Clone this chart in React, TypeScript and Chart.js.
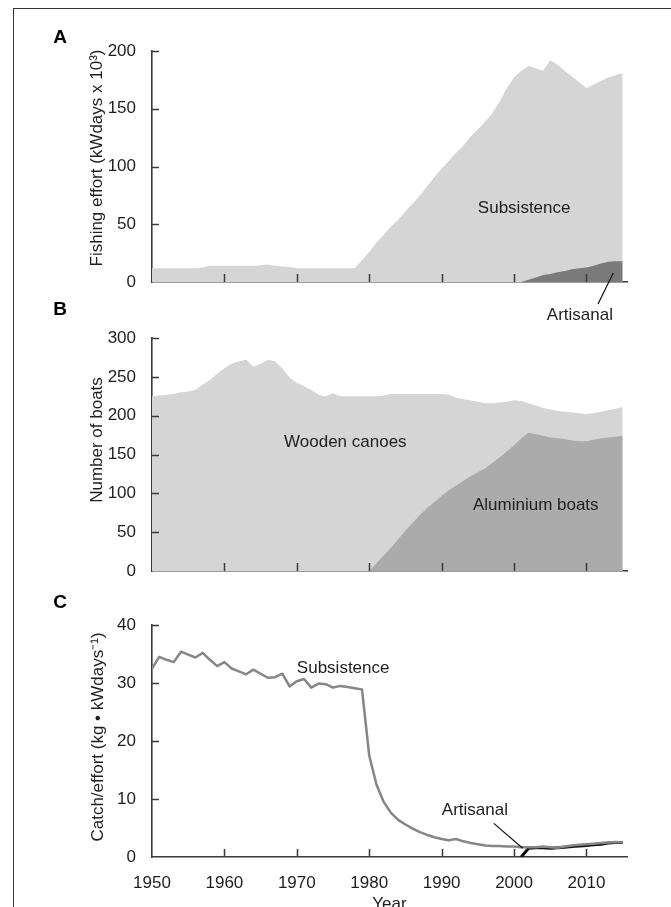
import React, { useEffect, useRef } from 'react';
import { Chart, registerables } from 'chart.js';

Chart.register(...registerables);

const FONT = '"Liberation Sans", Arial, Helvetica, sans-serif';
const TEXT = '#1e1e1e';
const AXIS = '#3a3a3a';
const LIGHT = '#d5d5d5';
const DARK_A = '#7a7a7a';
const MID_B = '#ababab';
const LINE_SUB = '#868686';
const LINE_ART = '#111111';

// ---------- DATA ----------
const YEAR_START = 1950; // categories: one value per year, 1950..2015
const X_MIN = 1950;
const X_MAX = 2015.6;
const X_TICK_STEP = 10;

// Panel A: fishing effort (kWdays x 10^3)
const subsistenceEffort = [
  12, 12, 12, 12, 12, 12, 12, 12.5, 14, 14,
  14, 14, 14, 14, 14, 14.5, 15, 14, 13.5, 13,
  12, 12, 12, 12, 12, 12, 12, 12, 12, 19,
  26, 34, 41, 48, 54, 61, 68, 75, 83, 91,
  98, 105, 112, 118, 126, 132, 139, 146, 156, 168,
  177, 183, 187, 185, 183, 192, 188, 183, 178, 173,
  168, 171, 174, 177, 179, 181,
];
const ARTISANAL_START = 2001;
const artisanalEffort = [0, 2, 4, 6, 7, 8.5, 9.5, 11, 12, 12.5, 14, 16, 17.5, 18, 18];

// Panel B: number of boats
const woodenCanoes = [
  225, 226, 227, 228, 230, 231, 233, 240, 246, 254,
  261, 267, 270, 272, 263, 267, 272, 270, 261, 249,
  242, 238, 233, 227, 225, 229, 225, 225, 225, 225,
  225, 225, 226, 228, 228, 228, 228, 228, 228, 228,
  228, 227, 223, 221, 220, 218, 216, 216, 217, 218,
  220, 219, 216, 213, 210, 208, 206, 205, 204, 203,
  202, 203, 205, 207, 209, 211,
];
const ALUMINIUM_START = 1980;
const aluminiumBoats = [
  0, 10, 20, 30, 41, 52, 62, 72, 81, 89,
  97, 104, 110, 116, 122, 127, 132, 139, 146, 154,
  162, 171, 178, 176, 174, 172, 171, 170, 168, 167,
  167, 169, 171, 172, 173, 174,
];

// Panel C: catch / effort (kg per kWday)
const subsistenceCpue = [
  32.5, 34.5, 34.0, 33.6, 35.4, 34.9, 34.4, 35.2, 34.0, 32.9,
  33.6, 32.5, 32.0, 31.5, 32.3, 31.6, 30.9, 31.0, 31.6, 29.4,
  30.3, 30.7, 29.2, 29.9, 29.8, 29.2, 29.5, 29.3, 29.1, 28.9,
  17.5, 12.5, 9.5, 7.6, 6.4, 5.6, 4.9, 4.3, 3.8, 3.4,
  3.1, 2.9, 3.1, 2.7, 2.4, 2.2, 2.0, 1.9, 1.9, 1.8,
  1.8, 1.7, 1.7, 1.7, 1.8, 1.7, 1.6, 1.8, 2.0, 2.1,
  2.2, 2.3, 2.4, 2.5, 2.6, 2.5,
];
const artisanalCpue = [0, 1.5, 1.6, 1.6, 1.5, 1.6, 1.7, 1.8, 1.9, 2.0, 2.1, 2.2, 2.4, 2.5, 2.5];

// Y tick settings
const yMaxA = 200, yStepA = 50;
const yMaxB = 300, yStepB = 50;
const yMaxC = 40, yStepC = 10;

// Text
const yTitleA = 'Fishing effort (kWdays x 10³)';
const yTitleB = 'Number of boats';
const yTitleC = 'Catch/effort (kg • kWdays⁻¹)';
const xTitleC = 'Year';

// ---------- helpers ----------
function toXY(start: number, values: number[]) {
  return values.map((v, i) => ({ x: start + i, y: v }));
}

const decorPlugin = {
  id: 'decor',
  afterDraw(chart: any, _args: any, opts: any) {
    const ctx = chart.ctx as CanvasRenderingContext2D;
    const { left, bottom } = chart.chartArea;
    const xs = chart.scales.x;
    const ys = chart.scales.y;
    ctx.save();
    // inward tick marks
    ctx.strokeStyle = AXIS;
    ctx.lineWidth = 1.5;
    ctx.beginPath();
    xs.ticks.forEach((t: any) => {
      if (t.value <= xs.min) return;
      const px = Math.round(xs.getPixelForValue(t.value)) + 0.5;
      ctx.moveTo(px, bottom);
      ctx.lineTo(px, bottom - 8);
    });
    ys.ticks.forEach((t: any) => {
      if (t.value <= ys.min) return;
      const py = Math.round(ys.getPixelForValue(t.value)) + 0.5;
      ctx.moveTo(left, py);
      ctx.lineTo(left + 7, py);
    });
    ctx.stroke();

    // leader lines
    ctx.strokeStyle = '#111';
    ctx.lineWidth = 1.2;
    (opts.leaders || []).forEach((l: number[]) => {
      ctx.beginPath();
      ctx.moveTo(xs.getPixelForValue(l[0]), ys.getPixelForValue(l[1]));
      ctx.lineTo(xs.getPixelForValue(l[2]), ys.getPixelForValue(l[3]));
      ctx.stroke();
    });

    // annotation labels (data coordinates)
    ctx.fillStyle = TEXT;
    ctx.font = `17px ${FONT}`;
    ctx.textAlign = 'center';
    ctx.textBaseline = 'middle';
    (opts.labels || []).forEach((l: any) => {
      ctx.fillText(l.text, xs.getPixelForValue(l.x), ys.getPixelForValue(l.y));
    });

    // y-axis title
    if (opts.yTitle) {
      ctx.save();
      ctx.translate(opts.yTitleX, opts.yTitleY);
      ctx.rotate(-Math.PI / 2);
      ctx.fillText(opts.yTitle, 0, 0);
      ctx.restore();
    }

    // panel letter
    if (opts.letter) {
      ctx.font = `bold 19px ${FONT}`;
      ctx.fillStyle = '#000';
      ctx.fillText(opts.letter, opts.letterX, opts.letterY);
    }
    ctx.restore();
  },
};

function makeOptions(p: any) {
  return {
    responsive: false,
    animation: false,
    events: [],
    layout: { padding: { top: p.padTop, right: 44, left: 0, bottom: 0 } },
    plugins: {
      legend: { display: false },
      tooltip: { enabled: false },
      decor: p.decor,
    },
    elements: { point: { radius: 0 }, line: { tension: 0 } },
    scales: {
      x: {
        type: 'linear',
        min: X_MIN,
        max: X_MAX,
        z: 1,
        grid: { display: false },
        border: { display: true, color: AXIS, width: 1.6 },
        ticks: {
          display: !!p.xLabels,
          stepSize: X_TICK_STEP,
          includeBounds: false,
          padding: 8,
          color: TEXT,
          maxRotation: 0,
          autoSkip: false,
          font: { size: 17, family: FONT },
          callback: (v: any) => String(v),
        },
        title: p.xTitle
          ? { display: true, text: p.xTitle, color: TEXT, font: { size: 17, family: FONT }, padding: { top: 0, bottom: 5 } }
          : { display: false },
        afterFit: (s: any) => {
          s.height = p.xHeight;
        },
      },
      y: {
        type: 'linear',
        min: 0,
        max: p.yMax,
        z: 1,
        grid: { display: false },
        border: { display: true, color: AXIS, width: 1.6 },
        ticks: {
          stepSize: p.yStep,
          padding: 8,
          color: TEXT,
          font: { size: 17, family: FONT },
          callback: (v: any) => String(v),
        },
        afterFit: (s: any) => {
          s.width = 152;
        },
      },
    },
  };
}

function areaSet(data: any[], color: string, order: number) {
  return {
    data,
    backgroundColor: color,
    borderColor: 'rgba(0,0,0,0)',
    borderWidth: 0,
    fill: 'origin',
    pointRadius: 0,
    order,
  };
}

function configA() {
  return {
    type: 'line',
    data: {
      datasets: [
        areaSet(toXY(YEAR_START, subsistenceEffort), LIGHT, 1),
        areaSet(toXY(ARTISANAL_START, artisanalEffort), DARK_A, 0),
      ],
    },
    options: makeOptions({
      padTop: 51,
      xHeight: 53,
      yMax: yMaxA,
      yStep: yStepA,
      decor: {
        letter: 'A',
        letterX: 60,
        letterY: 38,
        yTitle: yTitleA,
        yTitleX: 97,
        yTitleY: 158,
        labels: [
          { text: 'Subsistence', x: 2001.4, y: 64 },
          { text: 'Artisanal', x: 2009.1, y: -28.6 },
        ],
        leaders: [[2013.7, 7.8, 2011.6, -19]],
      },
    }),
    plugins: [decorPlugin],
  };
}

function configB() {
  return {
    type: 'line',
    data: {
      datasets: [
        areaSet(toXY(YEAR_START, woodenCanoes), LIGHT, 1),
        areaSet(toXY(ALUMINIUM_START, aluminiumBoats), MID_B, 0),
      ],
    },
    options: makeOptions({
      padTop: 48,
      xHeight: 19,
      yMax: yMaxB,
      yStep: yStepB,
      decor: {
        letter: 'B',
        letterX: 60,
        letterY: 20,
        yTitle: yTitleB,
        yTitleX: 97,
        yTitleY: 150,
        labels: [
          { text: 'Wooden canoes', x: 1976.7, y: 166 },
          { text: 'Aluminium boats', x: 2003.0, y: 85 },
        ],
        leaders: [],
      },
    }),
    plugins: [decorPlugin],
  };
}

function configC() {
  return {
    type: 'line',
    data: {
      datasets: [
        {
          data: toXY(YEAR_START, subsistenceCpue),
          borderColor: LINE_SUB,
          borderWidth: 2.5,
          borderJoinStyle: 'round',
          fill: false,
          pointRadius: 0,
          order: 0,
        },
        {
          data: toXY(ARTISANAL_START, artisanalCpue),
          borderColor: LINE_ART,
          borderWidth: 3,
          borderJoinStyle: 'round',
          fill: false,
          pointRadius: 0,
          order: 1,
        },
      ],
    },
    options: makeOptions({
      padTop: 40,
      xHeight: 63,
      xLabels: true,
      xTitle: xTitleC,
      yMax: yMaxC,
      yStep: yStepC,
      decor: {
        letter: 'C',
        letterX: 60,
        letterY: 18,
        yTitle: yTitleC,
        yTitleX: 98,
        yTitleY: 152,
        labels: [
          { text: 'Subsistence', x: 1976.4, y: 32.5 },
          { text: 'Artisanal', x: 1994.6, y: 8.1 },
        ],
        leaders: [[1997.2, 5.8, 2001.2, 1.5]],
      },
    }),
    plugins: [decorPlugin],
  };
}

function Panel({ top, height, make }: { top: number; height: number; make: () => any }) {
  const ref = useRef<HTMLCanvasElement>(null);
  useEffect(() => {
    if (!ref.current) return;
    const chart = new Chart(ref.current, make());
    return () => chart.destroy();
  }, []);
  return (
    <canvas
      ref={ref}
      width={671}
      height={height}
      style={{ position: 'absolute', left: 0, top, width: 671, height }}
    />
  );
}

export default function App() {
  Chart.defaults.font.family = FONT;
  return (
    <div
      style={{
        position: 'absolute',
        left: 0,
        top: 0,
        width: 671,
        height: 907,
        overflow: 'hidden',
        background: '#fff',
      }}
    >
      <div
        style={{
          position: 'absolute',
          left: 13,
          top: 8,
          width: 700,
          height: 950,
          borderTop: '1px solid #333',
          borderLeft: '1px solid #333',
        }}
      />
      <Panel top={0} height={335} make={configA} />
      <Panel top={290} height={300} make={configB} />
      <Panel top={585} height={335} make={configC} />
    </div>
  );
}
